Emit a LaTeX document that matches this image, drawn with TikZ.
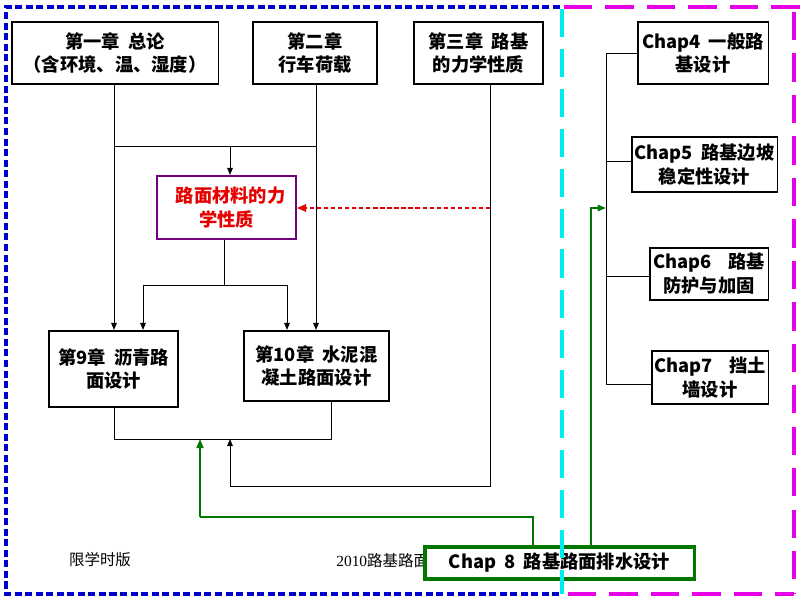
\documentclass[tikz,border=0pt]{standalone}
\usepackage{fontspec}
\setmainfont{Noto Sans CJK SC}
\newfontfamily\serifnum{Liberation Serif}
\usetikzlibrary{arrows.meta}
\definecolor{mypurple}{RGB}{112,0,128}
\definecolor{mygreen}{RGB}{0,120,0}
\definecolor{myblue}{RGB}{0,0,204}
\definecolor{mycyan}{RGB}{0,235,235}
\definecolor{mymag}{RGB}{230,0,230}
\definecolor{myred}{RGB}{230,0,0}
\newcommand{\hs}{\hspace{0.45em}}
\begin{document}
\begin{tikzpicture}[x=0.025cm,y=-0.025cm,
  box/.style={draw, line width=0.75pt, fill=white, align=center, inner sep=0pt,
    font=\fontsize{13}{17}\selectfont\bfseries},
  thickbox/.style={box, line width=1.5pt},
  conn/.style={line width=0.7pt},
  arr/.style={conn, -{Triangle[length=5pt,width=4pt]}},
  garr/.style={line width=1.4pt, draw=mygreen, -{Triangle[length=6.5pt,width=5pt]}},
  rarr/.style={line width=0.8pt, draw=myred, dashed, dash pattern=on 3pt off 2pt, -{Triangle[length=6.5pt,width=5.5pt]}},
  note/.style={font=\fontsize{11}{13}\selectfont, inner sep=0pt}
]
\useasboundingbox (0,0) rectangle (800,600);

% nodes
\node[box, minimum width=5.15cm, minimum height=1.55cm] (ch1) at (115,53) {第一章\hs 总论\\（含环境、温、湿度）};
\node[box, minimum width=3.1cm, minimum height=1.55cm] (ch2) at (315,53) {第二章\\行车荷载};
\node[box, minimum width=3.225cm, minimum height=1.55cm] (ch3) at (478.5,53) {第三章\hs 路基\\的力学性质};
\node[box, draw=mypurple, line width=1.5pt, text=myred, minimum width=3.475cm, minimum height=1.575cm] (mat) at (226.5,207.5) {\hs 路面材料的力\\学性质};
\node[thickbox, minimum width=3.225cm, minimum height=1.9cm] (ch9) at (113.5,369) {第9章\hs 沥青路\\面设计};
\node[thickbox, minimum width=3.625cm, minimum height=1.75cm] (ch10) at (316.5,366) {第10章\hs 水泥混\\凝土路面设计};
\node[box, minimum width=3.25cm, minimum height=1.55cm] (c4) at (703,53) {Chap4\hs 一般路\\基设计};
\node[box, minimum width=3.625cm, minimum height=1.375cm] (c5) at (704.5,164.5) {Chap5\hs 路基边坡\\稳定性设计};
\node[box, minimum width=2.95cm, minimum height=1.3cm] (c6) at (709,274) {Chap6\hs\hs 路基\\防护与加固};
\node[box, minimum width=2.9cm, minimum height=1.325cm] (c7) at (710,377.5) {Chap7\hs\hs 挡土\\墙设计};
\node[note] (lim) at (100,560) {限学时版};
\node[note, anchor=west] (yr) at (336,561) {{\serifnum 2010}路基路面};
\node[box, draw=mygreen, line width=2.2pt, minimum width=6.725cm, minimum height=0.8cm] (c8) at (559.5,563) {Chap\hs 8\hs 路基路面排水设计};

% coordinates
\coordinate (j1) at (115,146);
\coordinate (j2) at (316,146);
\coordinate (ja) at (230,146);
\coordinate (m1) at (224,285);
\coordinate (m9) at (143,285);
\coordinate (m10) at (287,285);
\coordinate (b9) at (114,439);
\coordinate (b10) at (331,439);
\coordinate (bk) at (230,439);
\coordinate (bg) at (200,439);
\coordinate (t3) at (490,486);
\coordinate (t3b) at (230,486);
\coordinate (g1) at (533,517);
\coordinate (g1b) at (200,517);
\coordinate (g2) at (591,208);
\coordinate (sp) at (606,208);
\coordinate (s1) at (606,53);
\coordinate (s7) at (606,384);

% connectors
\draw[arr] (ch1.south -| 114,0) -- (ch9.north -| 114,0);
\draw[arr] (ch2.south -| 316,0) -- (ch10.north -| 316,0);
\draw[conn] (j1) -- (j2);
\draw[arr] (ja) -- (mat.north -| ja);
\draw[conn] (mat.south -| m1) -- (m1);
\draw[conn] (m9) -- (m10);
\draw[arr] (m9) -- (ch9.north -| m9);
\draw[arr] (m10) -- (ch10.north -| m10);
\draw[conn] (ch9.south -| b9) -- (b9) -- (b10) -- (ch10.south -| b10);
\draw[conn] (ch3.south -| t3) -- (t3) -- (t3b);
\draw[arr] (t3b) -- (bk);
\draw[rarr] (490,208) -- (mat.east |- 0,208);
\draw[line width=1.4pt, draw=mygreen] (c8.north -| g1) -- (g1) -- (g1b);
\draw[garr] (g1b) -- (bg);
\draw[line width=1.4pt, draw=mygreen, -{Triangle[length=6pt,width=4.5pt]}] (c8.north -| g2) -- (g2) -- (sp);
\draw[conn] (s1) -- (s7);
\draw[conn] (s1) -- (c4.west |- s1);
\draw[conn] (606,161) -- (c5.west |- 0,161);
\draw[conn] (606,276) -- (c6.west |- 0,276);
\draw[conn] (s7) -- (c7.west |- s7);

% frames
\draw[myblue, line width=2.2pt, dash pattern=on 5pt off 2.5pt] (560,7) -- (6,7) -- (6,594) -- (560,594);
\draw[mymag, line width=2.2pt, dash pattern=on 20pt off 9.5pt] (564,7) -- (800,7);
\draw[mymag, line width=2.2pt, dash pattern=on 20pt off 9.5pt] (794,12) -- (794,594);
\draw[mymag, line width=2.2pt, dash pattern=on 20pt off 9.5pt] (568,594) -- (794,594);
\draw[mycyan, line width=2.2pt, dash pattern=on 20pt off 8.5pt] (562,9) -- (562,594);
\end{tikzpicture}
\end{document}
